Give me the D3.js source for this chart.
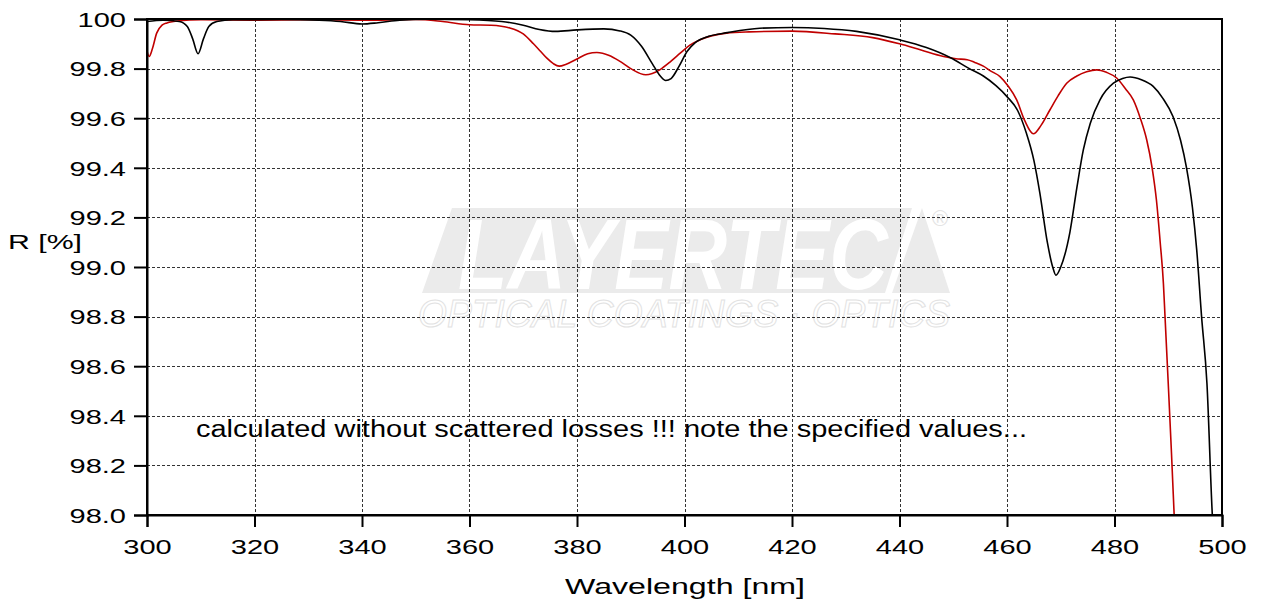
<!DOCTYPE html>
<html>
<head>
<meta charset="utf-8">
<script src="https://cdn.jsdelivr.net/npm/d3@7"></script>
<style>
  body { margin: 0; background: #fff; }
  text { font-family: "Liberation Sans", Arial, sans-serif; fill: #000; }
</style>
</head>
<body>
<svg id="chart" width="1261" height="599"></svg>
<script>
// wavelength [nm] / reflectance [%]
const blackNm = [300, 303, 306, 307.5, 308.5, 309.5, 310.5, 311.5, 313, 316, 325, 332, 336, 340, 343, 347, 352, 360, 366, 370, 373, 376, 380, 385, 388, 390, 392, 394, 395.5, 396.5, 397.5, 399, 400.5, 402, 404.5, 408, 414, 420, 426, 432, 440, 445, 449.4, 453, 455.6, 458, 460, 462, 463.6, 465, 466.1, 467.5, 468.5, 469.1, 470, 471.7, 473, 474.2, 475.5, 477.3, 479.8, 481.5, 482.9, 485, 487.2, 489, 490.9, 492.3, 493.4, 494.5, 495.3, 496.2, 497.2, 498.2, 498.8];
const blackR = [99.99, 99.995, 99.99, 99.97, 99.92, 99.86, 99.92, 99.97, 99.99, 99.997, 99.998, 99.995, 99.99, 99.98, 99.985, 99.995, 99.999, 99.997, 99.99, 99.975, 99.958, 99.95, 99.956, 99.96, 99.952, 99.935, 99.89, 99.82, 99.77, 99.752, 99.76, 99.81, 99.87, 99.905, 99.93, 99.945, 99.963, 99.966, 99.962, 99.95, 99.916, 99.885, 99.845, 99.8, 99.77, 99.73, 99.687, 99.63, 99.54, 99.43, 99.3, 99.1, 99.0, 98.967, 99.0, 99.14, 99.32, 99.472, 99.58, 99.674, 99.741, 99.76, 99.766, 99.755, 99.728, 99.68, 99.606, 99.51, 99.4, 99.24, 99.068, 98.8, 98.53, 98.0, 97.8];

const redNm = [300, 300.4, 301, 301.8, 302.8, 303.7, 306, 310, 320, 330, 340, 350, 355, 360, 364, 367.5, 370, 371.9, 373.2, 374.4, 375.6, 376.7, 378, 379.9, 382, 383.7, 386, 388, 390, 392.8, 394, 395.4, 397.5, 399.2, 401, 402.9, 405, 407.8, 412, 420, 428, 435, 440, 444, 448.2, 450.5, 452.6, 454, 455.6, 457, 458.7, 460.2, 461.8, 463.3, 464.9, 466.3, 468, 469.5, 471.1, 473, 474.8, 476.7, 478.5, 480.4, 482, 483.5, 484.8, 486, 487, 487.8, 488.5, 489.1, 489.4, 490, 490.6, 491.1, 491.5];
const redR = [99.87, 99.849, 99.88, 99.943, 99.975, 99.984, 99.993, 99.997, 99.995, 99.997, 99.995, 99.998, 99.99, 99.977, 99.975, 99.964, 99.94, 99.9, 99.87, 99.842, 99.82, 99.81, 99.818, 99.838, 99.86, 99.865, 99.853, 99.829, 99.8, 99.775, 99.78, 99.795, 99.83, 99.862, 99.895, 99.916, 99.932, 99.943, 99.948, 99.951, 99.94, 99.925, 99.9, 99.875, 99.849, 99.84, 99.836, 99.825, 99.81, 99.79, 99.768, 99.73, 99.674, 99.59, 99.537, 99.57, 99.634, 99.69, 99.741, 99.77, 99.787, 99.795, 99.785, 99.762, 99.72, 99.674, 99.6, 99.512, 99.4, 99.27, 99.1, 98.933, 98.8, 98.53, 98.25, 98.0, 97.8];

const xTicks = [300, 320, 340, 360, 380, 400, 420, 440, 460, 480, 500];
const yTicks = [98.0, 98.2, 98.4, 98.6, 98.8, 99.0, 99.2, 99.4, 99.6, 99.8, 100];

const svg = d3.select('#chart');
const plotLeft = 147, plotRight = 1222, plotTop = 19, plotBottom = 515;
const stretch = 1.45; // the reference text is wide

const x = d3.scaleLinear().domain([300, 500]).range([plotLeft, plotRight]);
const y = d3.scaleLinear().domain([98, 100]).range([plotBottom, plotTop]);

// watermark logo
const logo = svg.append('g');
logo.append('polygon')
  .attr('points', '452,208 912,208 885,293 422,293')
  .attr('fill', '#ebebeb');
logo.append('text')
  .attr('x', 458).attr('y', 289)
  .attr('textLength', 430).attr('lengthAdjust', 'spacingAndGlyphs')
  .style('font-size', '100px').style('font-weight', 'bold').style('font-style', 'italic')
  .style('fill', '#fff')
  .text('LAYERTEC');
logo.append('polygon')
  .attr('points', '922,208 950,293 892,293')
  .attr('fill', '#ebebeb');
logo.append('text')
  .attr('x', 940).attr('y', 226).attr('text-anchor', 'middle')
  .style('font-size', '22px').style('fill', '#e4e4e4')
  .text('®');
logo.append('text')
  .attr('x', 418).attr('y', 327)
  .attr('textLength', 532).attr('lengthAdjust', 'spacingAndGlyphs')
  .style('font-size', '38px').style('font-style', 'italic')
  .style('fill', 'none').style('stroke', '#e2e2e2').style('stroke-width', 1)
  .text('OPTICAL COATINGS · OPTICS');

// grid
const grid = svg.append('g')
  .attr('stroke', '#333').attr('stroke-width', 1).attr('stroke-dasharray', '3,2');
grid.selectAll('.vg')
  .data(xTicks.slice(1, -1))
  .enter().append('line')
    .attr('x1', d => Math.round(x(d)) + 0.5).attr('x2', d => Math.round(x(d)) + 0.5)
    .attr('y1', plotTop).attr('y2', plotBottom);
grid.selectAll('.hg')
  .data(yTicks.slice(1, -1))
  .enter().append('line')
    .attr('y1', d => Math.round(y(d)) + 0.5).attr('y2', d => Math.round(y(d)) + 0.5)
    .attr('x1', plotLeft).attr('x2', plotRight);

// curves
svg.append('clipPath').attr('id', 'plot')
  .append('rect').attr('x', plotLeft).attr('y', plotTop - 2)
  .attr('width', plotRight - plotLeft).attr('height', plotBottom - plotTop + 2);

const line = d3.line()
  .x(d => x(d[0]))
  .y(d => y(d[1]))
  .curve(d3.curveMonotoneX);

const curves = svg.append('g').attr('clip-path', 'url(#plot)');
curves.append('path')
  .datum(redNm.map((n, i) => [n, redR[i]]))
  .attr('d', line)
  .attr('fill', 'none').attr('stroke', '#c00000').attr('stroke-width', 1.6);
curves.append('path')
  .datum(blackNm.map((n, i) => [n, blackR[i]]))
  .attr('d', line)
  .attr('fill', 'none').attr('stroke', '#000').attr('stroke-width', 1.6);

// frame
svg.append('rect')
  .attr('x', plotLeft).attr('y', plotTop)
  .attr('width', plotRight - plotLeft).attr('height', plotBottom - plotTop)
  .attr('fill', 'none').attr('stroke', '#000').attr('stroke-width', 2);

// axes
const xAxis = svg.append('g')
  .attr('transform', `translate(0,${plotBottom})`)
  .call(d3.axisBottom(x).tickValues(xTicks).tickSize(12).tickPadding(8));
const yAxis = svg.append('g')
  .attr('transform', `translate(${plotLeft},0)`)
  .call(d3.axisLeft(y).tickValues(yTicks).tickSize(13).tickPadding(8)
    .tickFormat(d => d === 100 ? '100' : d.toFixed(1)));

[xAxis, yAxis].forEach(a => {
  a.select('.domain').attr('stroke-width', 2);
  a.selectAll('.tick line').attr('stroke-width', 2);
  a.selectAll('.tick text')
    .attr('font-family', null).attr('font-size', null)
    .style('font-size', '20px');
});
xAxis.selectAll('.tick text').attr('dy', '0.95em');
yAxis.selectAll('.tick text').attr('dy', '0.36em');

// stretch texts horizontally like the reference
function widen(sel, f) {
  sel.each(function () {
    const w = this.getComputedTextLength();
    d3.select(this).attr('textLength', w * f).attr('lengthAdjust', 'spacingAndGlyphs');
  });
}
widen(xAxis.selectAll('.tick text'), stretch);
widen(yAxis.selectAll('.tick text'), stretch);

// labels
svg.append('text')
  .attr('x', 685).attr('y', 594).attr('text-anchor', 'middle')
  .attr('textLength', 240).attr('lengthAdjust', 'spacingAndGlyphs')
  .style('font-size', '22px')
  .text('Wavelength [nm]');
svg.append('text')
  .attr('x', 8).attr('y', 249)
  .attr('textLength', 74).attr('lengthAdjust', 'spacingAndGlyphs')
  .style('font-size', '21px')
  .text('R [%]');
svg.append('text')
  .attr('x', 196).attr('y', 437)
  .attr('textLength', 831).attr('lengthAdjust', 'spacingAndGlyphs')
  .style('font-size', '23px')
  .text('calculated without scattered losses !!! note the specified values...');
</script>
</body>
</html>
